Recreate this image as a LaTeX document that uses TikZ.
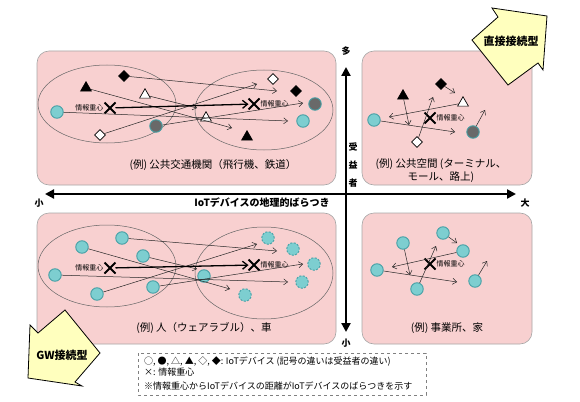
\documentclass[tikz,border=0pt]{standalone}
\usepackage{fontspec}
\setmainfont{Noto Sans CJK JP}
\usetikzlibrary{arrows.meta,shapes.geometric,shapes.misc}
\definecolor{pinkc}{RGB}{248,208,208}
\definecolor{cyanc}{RGB}{125,206,208}
\definecolor{tealc}{RGB}{70,160,165}
\definecolor{devgray}{RGB}{105,105,105}
\definecolor{yellowc}{RGB}{255,255,190}
\begin{document}
\begin{tikzpicture}[x=1pt,y=-1pt,
 panel/.style={draw=black!35, fill=pinkc, rounded corners=12pt, line width=0.6pt},
 ell/.style={draw=black!60, line width=0.5pt},
 dev/.style={circle, inner sep=0pt, minimum size=12.5pt, fill=cyanc, draw=tealc, line width=0.9pt},
 gdev/.style={dev, fill=devgray},
 ddev/.style={dev, dash pattern=on 2pt off 1.5pt},
 tri/.style={regular polygon, regular polygon sides=3, inner sep=0pt, minimum size=12.5pt, draw=black, line width=0.7pt},
 btri/.style={tri, fill=black},
 wtri/.style={tri, fill=white},
 dia/.style={diamond, inner sep=0pt, minimum size=11pt, draw=black, line width=0.7pt},
 bdia/.style={dia, fill=black},
 wdia/.style={dia, fill=white},
 xmark/.style={cross out, draw=black, line width=2pt, minimum size=9pt, inner sep=0pt},
 mv/.style={draw=black!85, line width=0.5pt, -{Straight Barb[length=4pt,width=6pt]}},
 xx/.style={draw=black, line width=1.3pt, -{Straight Barb[length=5pt,width=8pt]}},
 xlab/.style={font=\fontsize{7}{8}\selectfont, inner sep=1pt},
 captext/.style={font=\fontsize{10.5}{12}\selectfont, inner sep=0pt},
 axline/.style={line width=2.2pt, {Triangle[length=9pt,width=9pt]}-{Triangle[length=9pt,width=9pt]}},
 axlab/.style={font=\fontsize{9}{10}\selectfont\bfseries, inner sep=0pt},
 bigarrow/.style={fill=yellowc, draw=black, line width=0.8pt, line join=miter},
 bigtext/.style={font=\fontsize{11}{13}\selectfont\bfseries, inner sep=0pt},
 legtext/.style={font=\fontsize{9}{10}\selectfont, inner sep=0pt, anchor=west}
]
\useasboundingbox (0,0) rectangle (580,401);
% panels
\draw[panel] (37,51) rectangle (336,185);
\draw[panel] (362,51) rectangle (532,185);
\draw[panel] (37,213) rectangle (336,344);
\draw[panel] (362,213) rectangle (532,344);
% ellipses
\draw[ell] (107,104) ellipse [x radius=69, y radius=39];
\draw[ell] (264,110) ellipse [x radius=69, y radius=40];
\draw[ell] (107,266) ellipse [x radius=69, y radius=41];
\draw[ell] (264,273) ellipse [x radius=69, y radius=46];

% ---------- top-left ----------
\node[bdia] (a1) at (124,76) {};
\node[btri] (a2) at (86,88) {};
\node[wtri] (a3) at (145,95) {};
\node[dev]  (a4) at (57,112) {};
\node[gdev] (a5) at (156,126) {};
\node[wdia] (a6) at (100,135) {};
\node[xmark] (ax) at (110,108) {};
\node[xlab, anchor=east] (axl) at (ax.west) {情報重心};
\node[wdia] (b6) at (273,79) {};
\node[bdia] (b1) at (296,91) {};
\node[gdev] (b5) at (315,104) {};
\node[dev]  (b4) at (303,121) {};
\node[wtri] (b3) at (206,118) {};
\node[btri] (b2) at (247,137) {};
\node[xmark] (bx) at (254,104) {};
\node[xlab, anchor=west] (bxl) at (bx.east) {情報重心};
\coordinate (e1) at (277,91);
\coordinate (e2) at (232,128);
\coordinate (e3) at (197,108);
\coordinate (e4) at (288,121);
\coordinate (e5) at (303,103);
\coordinate (e6) at (257,84);
\draw[mv] (a1) -- (e1);
\draw[mv] (a2) -- (e2);
\draw[mv] (a3) -- (e3);
\draw[mv] (a4) -- (e4);
\draw[mv] (a5) -- (e5);
\draw[mv] (a6) -- (e6);
\draw[xx] (ax) -- (bx);
\node[captext] (capa) at (213,165) {(例) 公共交通機関（飛行機、鉄道）};

% ---------- top-right ----------
\node[bdia] (c1) at (441,84) {};
\node[btri] (c2) at (403,96) {};
\node[wtri] (c3) at (463,103) {};
\node[dev]  (c4) at (374,120) {};
\node[gdev] (c5) at (473,132) {};
\node[wdia] (c6) at (417,142) {};
\node[xmark] (cx) at (430,118) {};
\node[xlab, anchor=west] (cxl) at (cx.east) {情報重心};
\coordinate (g1) at (455,93);
\coordinate (g2) at (409,125);
\coordinate (g3) at (389,117);
\coordinate (g4) at (455,132);
\coordinate (g5) at (485,110);
\coordinate (g6) at (433,97);
\draw[mv] (c1) -- (g1);
\draw[mv] (c2) -- (g2);
\draw[mv] (c3) -- (g3);
\draw[mv] (c4) -- (g4);
\draw[mv] (c5) -- (g5);
\draw[mv] (c6) -- (g6);
\node[captext] (capb1) at (441,164) {(例) 公共空間 (ターミナル、};
\node[captext] (capb2) at (441,177) {モール、路上)};

% ---------- bottom-left ----------
\node[dev] (d1) at (122,238) {};
\node[dev] (d2) at (82,247) {};
\node[dev] (d3) at (143,256) {};
\node[dev] (d4) at (55,275) {};
\node[dev] (d5) at (153,287) {};
\node[dev] (d6) at (97,294) {};
\node[xmark] (dx) at (110,268) {};
\node[xlab, anchor=east] (dxl) at (dx.west) {情報重心};
\node[ddev] (h1) at (268,238) {};
\node[ddev] (h2) at (293,249) {};
\node[ddev] (h3) at (314,264) {};
\node[ddev] (h4) at (302,282) {};
\node[ddev] (h5) at (245,295) {};
\node[dev]  (h6) at (204,276) {};
\node[xmark] (hx) at (254,265) {};
\node[xlab, anchor=west] (hxl) at (hx.east) {情報重心};
\coordinate (k1) at (277,251);
\coordinate (k2) at (230,289);
\coordinate (k3) at (197,269);
\coordinate (k4) at (288,282);
\coordinate (k5) at (303,264);
\coordinate (k6) at (257,244);
\draw[mv] (d1) -- (k1);
\draw[mv] (d2) -- (k2);
\draw[mv] (d3) -- (k3);
\draw[mv] (d4) -- (k4);
\draw[mv] (d5) -- (k5);
\draw[mv] (d6) -- (k6);
\draw[xx] (dx) -- (hx);
\node[captext] (capc) at (204,328) {(例) 人（ウェアラブル）、車};

% ---------- bottom-right ----------
\node[dev] (f1) at (443,233) {};
\node[dev] (f2) at (403,243) {};
\node[dev] (f3) at (463,251) {};
\node[dev] (f4) at (377,270) {};
\node[dev] (f5) at (417,289) {};
\node[dev] (f6) at (475,281) {};
\node[xmark] (fx) at (430,264) {};
\node[xlab, anchor=west] (fxl) at (fx.east) {情報重心};
\coordinate (m1) at (457,243);
\coordinate (m2) at (410,275);
\coordinate (m3) at (392,267);
\coordinate (m4) at (457,282);
\coordinate (m5) at (436,246);
\coordinate (m6) at (487,261);
\draw[mv] (f1) -- (m1);
\draw[mv] (f2) -- (m2);
\draw[mv] (f3) -- (m3);
\draw[mv] (f4) -- (m4);
\draw[mv] (f5) -- (m5);
\draw[mv] (f6) -- (m6);
\node[captext] (capd) at (447,328) {(例) 事業所、家};

% ---------- axes ----------
\coordinate (hl) at (45,194);
\coordinate (hr) at (516,194);
\coordinate (vt) at (346,67);
\coordinate (vb) at (346,332);
\draw[axline] (hl) -- (hr);
\draw[axline] (vt) -- (vb);
\node[axlab] (lsmall) at (39,203) {小};
\node[axlab] (lbig) at (525,203) {大};
\node[axlab, font=\fontsize{10}{12}\selectfont\bfseries] (hlab) at (262,203) {IoTデバイスの地理的ばらつき};
\node[axlab] (vmany) at (346,51) {多};
\node[axlab] (vfew) at (346,343) {小};
\node[axlab, align=center, font=\fontsize{9}{18}\selectfont\bfseries] (vlab) at (353,165) {受\\益\\者};

% ---------- legend ----------
\draw[draw=black!50, dashed, line width=0.5pt] (138,353) rectangle (426,395);
\node[legtext] (l1) at (144,361) {○, ●, △, ▲, ◇, ◆: IoTデバイス (記号の違いは受益者の違い)};
\node[legtext] (l2) at (144,372) {×: 情報重心};
\node[legtext] (l3) at (144,386) {※情報重心からIoTデバイスの距離がIoTデバイスのばらつきを示す};

% ---------- big arrows ----------
\draw[bigarrow] (498,17) -- (492,8) -- (547,16) -- (543,70) -- (538,63) -- (508,85) -- (472,40) -- cycle;
\node[bigtext] (ta) at (511,41) {直接接続型};
\draw[bigarrow] (65,310) -- (100,353) -- (75,382) -- (82,386) -- (28,378) -- (30,325) -- (38,333) -- cycle;
\node[bigtext] (tb) at (62,355) {GW接続型};
\end{tikzpicture}
\end{document}
